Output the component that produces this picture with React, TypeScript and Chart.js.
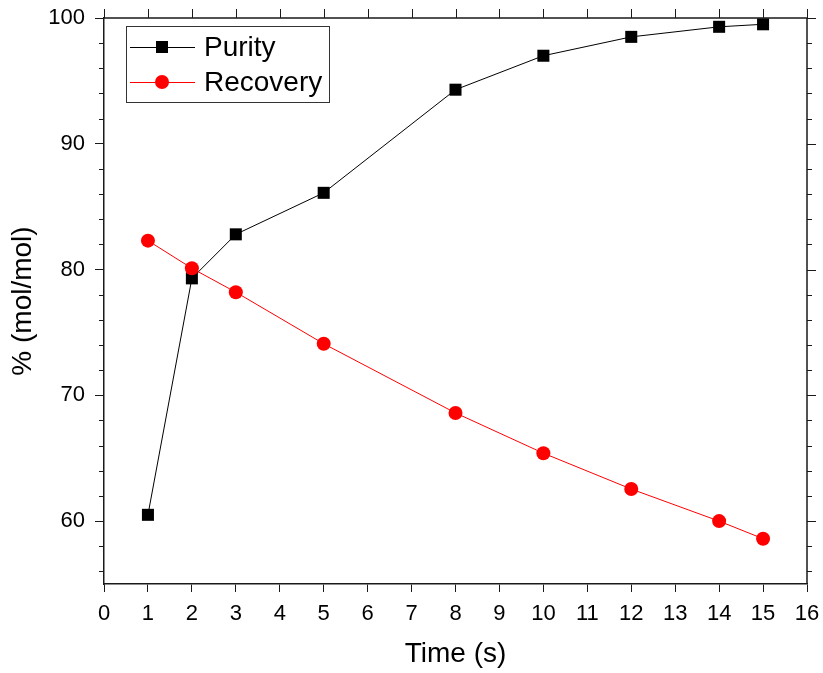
import React, { useEffect, useRef } from "react";
import { Chart, registerables } from "chart.js";

Chart.register(...registerables);

const timeS = [1, 2, 3, 5, 8, 10, 12, 14, 15];
const purity = [60.5, 79.3, 82.8, 86.1, 94.3, 97.0, 98.5, 99.3, 99.5];
const recovery = [82.3, 80.1, 78.2, 74.1, 68.6, 65.4, 62.55, 60.0, 58.6];
const seriesNames = ["Purity", "Recovery"];
const xTitle = "Time (s)";
const yTitle = "% (mol/mol)";

const FONT = "'Liberation Sans', Arial, Helvetica, sans-serif";
const AXIS_COLOR = "#1a1a1a";

const framePlugin = {
  id: "frame",
  afterDraw(chart: any) {
    const { ctx, chartArea, scales } = chart;
    const xs = scales.x;
    const ys = scales.y;
    ctx.save();
    ctx.strokeStyle = AXIS_COLOR;
    ctx.lineWidth = 1.5;
    ctx.beginPath();
    ctx.moveTo(chartArea.left, chartArea.top);
    ctx.lineTo(chartArea.right, chartArea.top);
    ctx.moveTo(chartArea.right, chartArea.top);
    ctx.lineTo(chartArea.right, chartArea.bottom);
    ctx.stroke();
    ctx.lineWidth = 1;
    ctx.beginPath();
    for (let v = 0; v <= 16; v++) {
      const px = Math.round(xs.getPixelForValue(v)) + 0.5;
      ctx.moveTo(px, chartArea.top);
      ctx.lineTo(px, chartArea.top - 9);
    }
    for (let v = 56; v <= 100; v += 2) {
      const py = Math.round(ys.getPixelForValue(v)) + 0.5;
      const major = v % 10 === 0;
      const len = major ? 9 : 5;
      if (!major) {
        ctx.moveTo(chartArea.left, py);
        ctx.lineTo(chartArea.left - len, py);
      }
      ctx.moveTo(chartArea.right, py);
      ctx.lineTo(chartArea.right + len, py);
    }
    ctx.stroke();

    const bx = 126, by = 26, bw = 203, bh = 76;
    ctx.fillStyle = "#fff";
    ctx.fillRect(bx, by, bw, bh);
    ctx.strokeStyle = "#333";
    ctx.lineWidth = 1;
    ctx.strokeRect(bx + 0.5, by + 0.5, bw, bh);
    const rows = [47, 82];
    chart.data.datasets.forEach((ds: any, i: number) => {
      const y = rows[i];
      ctx.strokeStyle = ds.borderColor;
      ctx.lineWidth = 1;
      ctx.beginPath();
      ctx.moveTo(130, y + 0.5);
      ctx.lineTo(195, y + 0.5);
      ctx.stroke();
      ctx.fillStyle = ds.pointBackgroundColor;
      if (ds.pointStyle === "rect") {
        ctx.fillRect(162 - 6, y - 6, 12, 12);
      } else {
        ctx.beginPath();
        ctx.arc(162, y, 7, 0, Math.PI * 2);
        ctx.fill();
      }
      ctx.fillStyle = "#000";
      ctx.font = `28px ${FONT}`;
      ctx.textBaseline = "middle";
      ctx.textAlign = "left";
      ctx.fillText(ds.label, 204, y + 1);
    });
    ctx.restore();
  },
};

export default function App() {
  const ref = useRef<HTMLCanvasElement | null>(null);
  useEffect(() => {
    document.body.style.margin = "0";
    const canvas = ref.current!;
    const chart = new Chart(canvas, {
      type: "scatter",
      data: {
        datasets: [
          {
            label: seriesNames[0],
            data: timeS.map((t, i) => ({ x: t, y: purity[i] })),
            showLine: true,
            borderColor: "#000",
            backgroundColor: "#000",
            pointBackgroundColor: "#000",
            pointBorderColor: "#000",
            borderWidth: 1,
            pointStyle: "rect",
            pointRadius: 8.5,
            pointBorderWidth: 0,
            order: 1,
          },
          {
            label: seriesNames[1],
            data: timeS.map((t, i) => ({ x: t, y: recovery[i] })),
            showLine: true,
            borderColor: "#ff0000",
            backgroundColor: "#ff0000",
            pointBackgroundColor: "#ff0000",
            pointBorderColor: "#ff0000",
            borderWidth: 1,
            pointStyle: "circle",
            pointRadius: 7,
            pointBorderWidth: 0,
            order: 0,
          },
        ],
      },
      options: {
        responsive: false,
        animation: false,
        layout: { padding: { top: 18, right: 16, left: 0, bottom: 0 } },
        plugins: { legend: { display: false }, tooltip: { enabled: false } },
        scales: {
          x: {
            type: "linear",
            min: 0,
            max: 16,
            afterFit: (s: any) => {
              s.height = 89;
              s.paddingLeft = 0;
              s.paddingRight = 0;
            },
            ticks: {
              stepSize: 1,
              color: "#000",
              padding: 9,
              font: { family: FONT, size: 22 },
              maxRotation: 0,
            },
            grid: {
              drawOnChartArea: false,
              drawTicks: true,
              tickLength: 8,
              color: AXIS_COLOR,
            },
            border: { color: AXIS_COLOR, width: 1.5 },
            title: {
              display: true,
              text: xTitle,
              color: "#000",
              font: { family: FONT, size: 28 },
              padding: { top: 0, bottom: 2 },
            },
          },
          y: {
            type: "linear",
            min: 55,
            max: 100,
            afterFit: (s: any) => {
              s.width = 104;
              s.paddingTop = 0;
              s.paddingBottom = 0;
            },
            ticks: {
              stepSize: 10,
              color: "#000",
              padding: 10,
              font: { family: FONT, size: 22 },
              callback: (v: any) => (Number(v) % 10 === 0 ? String(v) : ""),
            },
            grid: {
              drawOnChartArea: false,
              drawTicks: true,
              tickLength: 9,
              color: (c: any) =>
                c.tick && c.tick.value % 10 === 0 ? AXIS_COLOR : "rgba(0,0,0,0)",
            },
            border: { color: AXIS_COLOR, width: 1.5 },
            title: {
              display: true,
              text: yTitle,
              color: "#000",
              font: { family: FONT, size: 28 },
              padding: { top: 6, bottom: 0 },
            },
          },
        },
      },
      plugins: [framePlugin],
    } as any);
    return () => chart.destroy();
  }, []);
  return (
    <div style={{ width: 823, height: 673, background: "#fff" }}>
      <canvas ref={ref} width={823} height={673} style={{ display: "block" }} />
    </div>
  );
}
